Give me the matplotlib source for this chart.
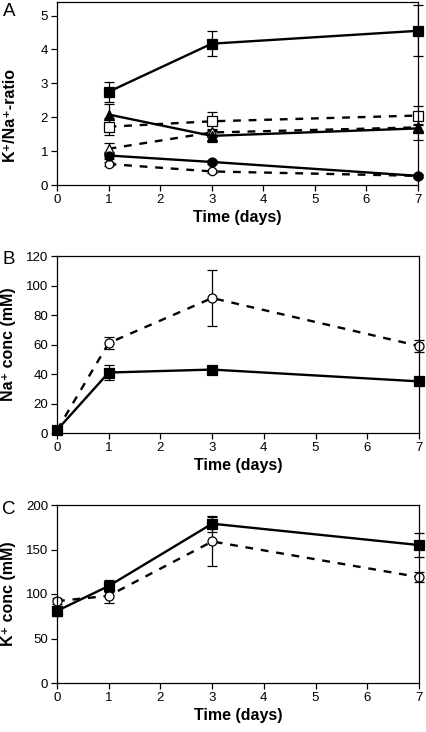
import matplotlib
matplotlib.use("Agg")
import matplotlib.pyplot as plt

plt.rcParams['font.family'] = ['Liberation Sans', 'DejaVu Sans']

# --- data ---
days_a = [1, 3, 7]
ratio_sq_filled = [2.75, 4.17, 4.55]
ratio_sq_filled_err = [0.30, 0.37, 0.75]
ratio_tri_filled = [2.08, 1.45, 1.67]
ratio_tri_filled_err = [0.30, 0.18, 0.33]
ratio_sq_open = [1.72, 1.88, 2.05]
ratio_sq_open_err = [0.25, 0.28, 0.27]
ratio_tri_open = [1.07, 1.55, 1.70]
ratio_tri_open_err = [0.17, 0.10, 0.10]
ratio_circ_filled = [0.87, 0.68, 0.27]
ratio_circ_filled_err = [0.10, 0.05, 0.05]
ratio_circ_open = [0.62, 0.40, 0.27]
ratio_circ_open_err = [0.05, 0.04, 0.03]

days_bc = [0, 1, 3, 7]
na_open = [2, 61, 91.5, 59]
na_open_err = [1, 4, 18.7, 4]
na_filled = [2, 41, 43, 35]
na_filled_err = [1, 5, 1.5, 2.5]

k_filled = [81, 109, 179, 155]
k_filled_err = [6, 7, 9, 13]
k_open = [92, 98, 159, 119]
k_open_err = [3, 8, 27, 6]

W, H = 427, 732
fig = plt.figure(figsize=(W / 100, H / 100), dpi=100)

def px_axes(left, top, right, bottom):
    return fig.add_axes([left / W, 1 - bottom / H, (right - left) / W, (bottom - top) / H])

ax_a = px_axes(57, 2, 418, 185)
ax_b = px_axes(57, 256, 419, 433)
ax_c = px_axes(57, 505, 419, 683)

LW = 1.7
DASH = (3.3, 3.3)

def series(ax, x, y, err, marker, filled, dashed, ms=6.5):
    kw = dict(color='black', lw=LW, marker=marker, ms=ms,
              mfc='black' if filled else 'white', mec='black', mew=0.9,
              ecolor='black', elinewidth=0.9, capsize=3.5, capthick=0.9)
    c = ax.errorbar(x, y, yerr=err, **kw)
    if dashed:
        c.lines[0].set_dashes(DASH)
    return c

# panel A
series(ax_a, days_a, ratio_circ_open, ratio_circ_open_err, 'o', False, True, 6)
series(ax_a, days_a, ratio_tri_open, ratio_tri_open_err, '^', False, True, 6.5)
series(ax_a, days_a, ratio_sq_open, ratio_sq_open_err, 's', False, True, 6.5)
series(ax_a, days_a, ratio_circ_filled, ratio_circ_filled_err, 'o', True, False, 6.5)
series(ax_a, days_a, ratio_tri_filled, ratio_tri_filled_err, '^', True, False, 7.5)
series(ax_a, days_a, ratio_sq_filled, ratio_sq_filled_err, 's', True, False, 7.5)
ax_a.set_ylim(0, 5.4)
ax_a.set_yticks([0, 1, 2, 3, 4, 5])

# panel B
series(ax_b, days_bc, na_open, na_open_err, 'o', False, True, 6.5)
series(ax_b, days_bc, na_filled, na_filled_err, 's', True, False, 7.5)
ax_b.set_ylim(0, 120)
ax_b.set_yticks(range(0, 121, 20))

# panel C
series(ax_c, days_bc, k_open, k_open_err, 'o', False, True, 6.5)
series(ax_c, days_bc, k_filled, k_filled_err, 's', True, False, 7.5)
ax_c.set_ylim(0, 200)
ax_c.set_yticks(range(0, 201, 50))

ylabels = ['K\u207a/Na\u207a-ratio', 'Na\u207a conc (mM)', 'K\u207a conc (mM)']
ylab_y = [0.39, 0.5, 0.5]
letter_y = [11.5, 259, 509]  # pixel centres from top
for ax, lab, yy, letter, ly in zip([ax_a, ax_b, ax_c], ylabels, ylab_y, 'ABC', letter_y):
    ax.set_xlim(0, 7)
    ax.set_xticks(range(0, 8))
    ax.tick_params(direction='out', length=4, width=0.9, labelsize=9.5, pad=2.5)
    for s in ax.spines.values():
        s.set_linewidth(0.9)
    ax.set_xlabel('Time (days)', fontsize=11.5, fontweight='bold', labelpad=3)
    ax.set_ylabel(lab, fontsize=11.5, fontweight='bold')
    ax.yaxis.set_label_coords(-0.112, yy)
    fig.text(9 / W, 1 - ly / H, letter, fontsize=13.5, ha='center', va='center')
    for ln in ax.lines:
        ln.set_clip_on(False)

fig.savefig('out.png', dpi=100)
